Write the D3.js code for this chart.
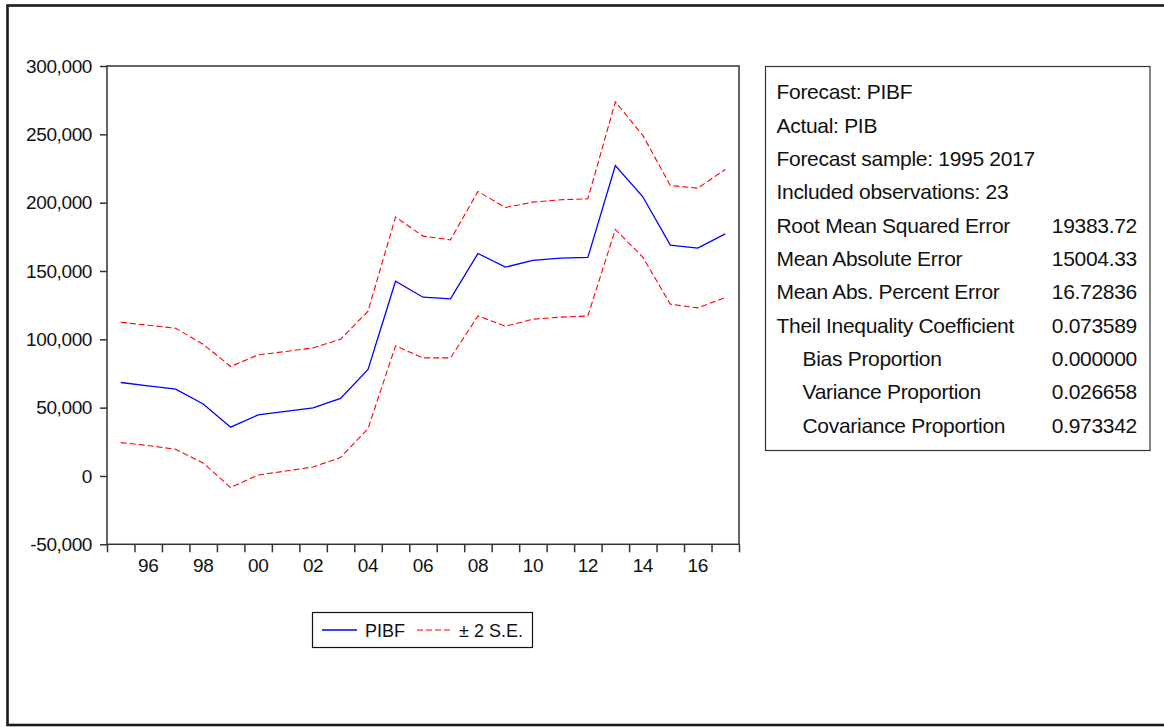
<!DOCTYPE html>
<html>
<head>
<meta charset="utf-8">
<script src="https://cdn.jsdelivr.net/npm/d3@7"></script>
<style>
  body { margin: 0; background: #fff; }
  svg { display: block; font-family: "Liberation Sans", Arial, sans-serif; }
</style>
</head>
<body>
<div class="container__chart"></div>
<script>
// data
const years = d3.range(1995, 2018);
const pibf = [68400, 66000, 63500, 52700, 35700, 44700, 47200, 49800, 56700, 77900,
  142500, 130800, 129600, 162800, 152800, 157700, 159400, 159900, 227200, 204300,
  168900, 166700, 177200];
const upper = [112500, 110300, 108100, 96400, 80100, 88600, 91100, 93700, 100100, 120600,
  189500, 175500, 172800, 208200, 196500, 200400, 202100, 202800, 273800, 249200,
  212600, 210600, 224300];
const lower = [24400, 22300, 19500, 9500, -8500, 700, 3600, 6600, 13500, 34700,
  95200, 86400, 86400, 117100, 109600, 114700, 116200, 117100, 180400, 160100,
  125700, 123000, 130600];
const yTicks = [-50000, 0, 50000, 100000, 150000, 200000, 250000, 300000];
const xLabelYears = [1996, 1998, 2000, 2002, 2004, 2006, 2008, 2010, 2012, 2014, 2016];
const legendNames = ["PIBF", "\u00b1 2 S.E."];
const statLabels = ["Forecast: PIBF", "Actual: PIB", "Forecast sample: 1995 2017",
  "Included observations: 23", "Root Mean Squared Error", "Mean Absolute Error",
  "Mean Abs. Percent Error", "Theil Inequality Coefficient", "Bias Proportion",
  "Variance Proportion", "Covariance Proportion"];
const statValues = ["", "", "", "", "19383.72", "15004.33", "16.72836", "0.073589",
  "0.000000", "0.026658", "0.973342"];
const statIndent = [0, 0, 0, 0, 0, 0, 0, 0, 1, 1, 1];

const WIDTH = 1164;
const HEIGHT = 727;
const PLOT = { left: 107, right: 739, top: 66, bottom: 544.3 };

const svg = d3.select(".container__chart")
  .append("svg")
  .attr("width", WIDTH)
  .attr("height", HEIGHT);

// outer frame
svg.append("rect")
  .attr("x", 7.5).attr("y", 5.5)
  .attr("width", 1200).attr("height", 719.5)
  .attr("fill", "none")
  .attr("stroke", "#1a1a1a")
  .attr("stroke-width", 2.6);

// scales
const xBand = d3.scaleBand().domain(years).range([PLOT.left, PLOT.right]).paddingInner(0).paddingOuter(0);
const xEdge = d3.scaleLinear().domain([1995, 2018]).range([PLOT.left, PLOT.right]);
const yScale = d3.scaleLinear().domain([-50000, 300000]).range([PLOT.bottom, PLOT.top]);
const fmt = d3.formatLocale({ decimal: ".", thousands: ",", grouping: [3], currency: ["", ""], minus: "-" }).format(",");

const xPos = (d, i) => xBand(years[i]) + xBand.bandwidth() / 2;

// plot box
svg.append("rect")
  .attr("x", PLOT.left).attr("y", PLOT.top)
  .attr("width", PLOT.right - PLOT.left)
  .attr("height", PLOT.bottom - PLOT.top)
  .attr("fill", "none")
  .attr("stroke", "#333")
  .attr("stroke-width", 1.5);

// y-axis
const yAxis = svg.append("g")
  .attr("transform", `translate(${PLOT.left},0)`)
  .call(d3.axisLeft(yScale).tickValues(yTicks).tickSize(7).tickPadding(8).tickFormat(fmt));
yAxis.select(".domain").remove();
yAxis.selectAll("line").attr("stroke", "#333").attr("stroke-width", 1.5);
yAxis.selectAll("text")
  .attr("fill", "#111")
  .style("font-size", "19px")
  .style("letter-spacing", "-0.4px")
  .style("font-family", "'Liberation Sans', Arial, sans-serif");

// x-axis ticks at year boundaries
const xAxis = svg.append("g")
  .attr("transform", `translate(0,${PLOT.bottom})`)
  .call(d3.axisBottom(xEdge).tickValues(d3.range(1995, 2019)).tickSize(8).tickFormat(""));
xAxis.select(".domain").remove();
xAxis.selectAll("line").attr("stroke", "#333").attr("stroke-width", 1.5);

// x labels at year centres
const xLab = svg.append("g")
  .attr("transform", `translate(0,${PLOT.bottom})`)
  .call(d3.axisBottom(xBand).tickValues(xLabelYears).tickSize(0).tickPadding(14)
    .tickFormat(d => String(d % 100).padStart(2, "0")));
xLab.select(".domain").remove();
xLab.selectAll("text")
  .attr("fill", "#111")
  .style("font-size", "19px")
  .style("letter-spacing", "-0.4px")
  .style("font-family", "'Liberation Sans', Arial, sans-serif");

// lines
const line = d3.line().x(xPos).y(d => yScale(d));

svg.append("path").datum(upper)
  .attr("d", line).attr("fill", "none")
  .attr("stroke", "#ff0000").attr("stroke-width", 1.1)
  .attr("stroke-dasharray", "6,3");
svg.append("path").datum(lower)
  .attr("d", line).attr("fill", "none")
  .attr("stroke", "#ff0000").attr("stroke-width", 1.1)
  .attr("stroke-dasharray", "6,3");
svg.append("path").datum(pibf)
  .attr("d", line).attr("fill", "none")
  .attr("stroke", "#0000ff").attr("stroke-width", 1.3);

// legend
const legend = svg.append("g");
legend.append("rect")
  .attr("x", 312.5).attr("y", 612.5)
  .attr("width", 220).attr("height", 35)
  .attr("fill", "#fff").attr("stroke", "#111").attr("stroke-width", 1.2);
legend.append("line")
  .attr("x1", 322).attr("x2", 357).attr("y1", 630).attr("y2", 630)
  .attr("stroke", "#0000ff").attr("stroke-width", 1.3);
legend.append("text")
  .attr("x", 365).attr("y", 637)
  .style("font-size", "18px").attr("fill", "#111")
  .text(legendNames[0]);
legend.append("line")
  .attr("x1", 417).attr("x2", 452).attr("y1", 630).attr("y2", 630)
  .attr("stroke", "#ff0000").attr("stroke-width", 1.1)
  .attr("stroke-dasharray", "6,3");
legend.append("text")
  .attr("x", 459).attr("y", 637)
  .style("font-size", "18px").attr("fill", "#111")
  .text(legendNames[1]);

// stats box
const stats = svg.append("g");
stats.append("rect")
  .attr("x", 765.5).attr("y", 66.5)
  .attr("width", 384.5).attr("height", 384)
  .attr("fill", "#fff").attr("stroke", "#333").attr("stroke-width", 1.2);

stats.selectAll(".statLabel")
  .data(statLabels)
  .enter()
  .append("text")
  .attr("class", "statLabel")
  .attr("x", (d, i) => statIndent[i] ? 802.5 : 776.5)
  .attr("y", (d, i) => 99.3 + i * 33.34)
  .style("font-size", "21px")
  .style("letter-spacing", "-0.3px")
  .attr("fill", "#111")
  .text(d => d);

stats.selectAll(".statValue")
  .data(statValues)
  .enter()
  .append("text")
  .attr("class", "statValue")
  .attr("x", 1137)
  .attr("y", (d, i) => 99.3 + i * 33.34)
  .attr("text-anchor", "end")
  .style("font-size", "21px")
  .style("letter-spacing", "-0.3px")
  .attr("fill", "#111")
  .text(d => d);
</script>
</body>
</html>
